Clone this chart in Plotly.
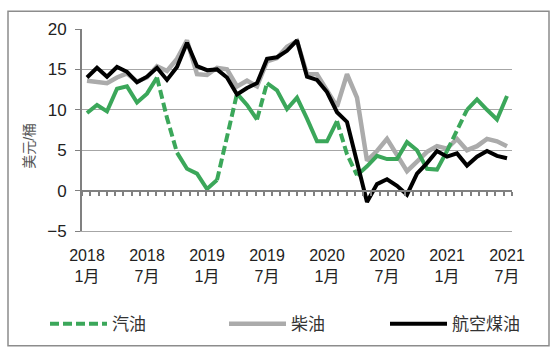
import plotly.graph_objects as go

# ---------------- data ----------------
months = [f"{y}年{m}月" for y in range(2018, 2022) for m in range(1, 13)][:43]

gasoline = [9.6, 10.6, 9.8, 12.6, 12.9, 10.9, 12.0, 14.0, 9.0, 4.7,
            2.7, 2.1, 0.2, 1.3, 6.5, 12.0, 10.6, 8.8, 13.3, 12.4,
            10.1, 11.5, 8.9, 6.1, 6.1, 8.6, 4.5, 1.9, 3.0, 4.3,
            3.9, 3.9, 6.0, 5.0, 2.7, 2.6, 4.9, 7.5, 10.0, 11.3,
            10.0, 8.8, 11.7]
diesel = [13.6, 13.4, 13.3, 14.0, 14.5, 13.5, 14.0, 15.4, 14.8, 16.3,
          18.6, 14.4, 14.3, 15.2, 15.0, 12.9, 13.6, 12.9, 16.0, 16.4,
          17.8, 18.5, 14.4, 14.4, 12.3, 10.4, 14.4, 11.5, 3.7, 4.9,
          6.4, 4.3, 2.4, 3.6, 4.8, 5.5, 5.2, 6.4, 5.0, 5.5,
          6.4, 6.1, 5.5]
jet = [14.0, 15.2, 14.1, 15.3, 14.7, 13.4, 14.1, 15.2, 13.7, 15.3,
       18.3, 15.4, 14.9, 15.0, 14.0, 11.9, 12.7, 13.3, 16.3, 16.5,
       17.3, 18.6, 14.1, 13.7, 12.2, 9.7, 8.5, 3.5, -1.4, 0.8,
       1.4, 0.6, -0.5, 2.1, 3.4, 4.9, 4.2, 4.6, 3.1, 4.2,
       4.9, 4.3, 4.0]

# segments of the gasoline line drawn dashed (start index, end index)
gasoline_dashed = [(7, 9), (13, 15), (17, 18), (25, 27), (36, 38)]

tick_months = months[::6]
tick_text = [f"{m[:4]}<br>{m[5:]}" for m in tick_months]

FONT = "Liberation Sans, Arial, Noto Sans CJK SC, sans-serif"
GREEN = "#3ba75a"
GRAY = "#ababab"
BLACK = "#000000"

# plot area geometry in pixels (for paper conversion of decorations)
L, R, T, B = 82, 512, 29, 233
W, H = R - L, B - T


def px(x):
    return (x - L) / W


def py(y):
    return (B - y) / H


fig = go.Figure()

# diesel
fig.add_trace(go.Scatter(x=months, y=diesel, mode="lines", name="柴油",
                         line=dict(color=GRAY, width=4.5), legend="legend2"))

# gasoline: split into solid and dashed segments
segs = []
cur = 0
for a, b in gasoline_dashed:
    if a > cur:
        segs.append((cur, a, False))
    segs.append((a, b, True))
    cur = b
if cur < len(gasoline) - 1:
    segs.append((cur, len(gasoline) - 1, False))

first_dash = True
for a, b, dashed in segs:
    fig.add_trace(go.Scatter(
        x=months[a:b + 1], y=gasoline[a:b + 1], mode="lines", name="汽油",
        line=dict(color=GREEN, width=4, dash="9px,4px" if dashed else "solid"),
        showlegend=dashed and first_dash, legend="legend"))
    if dashed:
        first_dash = False

# jet fuel
fig.add_trace(go.Scatter(x=months, y=jet, mode="lines", name="航空煤油",
                         line=dict(color=BLACK, width=4), legend="legend3"))

# helper trace for the minor-tick baseline at y=0
fig.add_trace(go.Scatter(x=[0, 52], y=[None, None], xaxis="x2", mode="lines",
                         showlegend=False, hoverinfo="skip"))

LEG = dict(orientation="h", xanchor="left", yanchor="middle",
           font=dict(size=17, color="#333333"),
           bgcolor="rgba(0,0,0,0)", itemwidth=57)

fig.update_layout(
    width=556, height=354,
    margin=dict(l=L, r=556 - R, t=T, b=354 - B),
    paper_bgcolor="white", plot_bgcolor="white",
    font=dict(family=FONT, size=16, color="#222222"),
    xaxis=dict(type="category", range=[-0.5, 42.5], tickmode="array",
               tickvals=tick_months, ticktext=tick_text, ticks="",
               ticklabelstandoff=10, showgrid=False, showline=True,
               linecolor="#a6a6a6", linewidth=1, zeroline=False,
               tickfont=dict(size=16, color="#222222")),
    xaxis2=dict(overlaying="x", anchor="free", position=0.2, range=[0, 52],
                tickmode="linear", tick0=0, dtick=1, ticks="outside",
                ticklen=4, tickwidth=1.5, tickcolor="#808080",
                showticklabels=False, showgrid=False, showline=True,
                linecolor="#808080", linewidth=2, zeroline=False),
    yaxis=dict(range=[-5, 20], tickmode="linear", tick0=-5, dtick=5,
               showline=True, linecolor="#808080", linewidth=2,
               ticks="outside", ticklen=5, tickcolor="#808080",
               ticklabelstandoff=5,
               gridcolor="#a6a6a6", gridwidth=1, zeroline=False,
               tickfont=dict(size=17, color="#222222")),
    legend=dict(LEG, x=px(45), y=py(327)),
    legend2=dict(LEG, x=px(224), y=py(327)),
    legend3=dict(LEG, x=px(385), y=py(327)),
    showlegend=True,
    annotations=[dict(text="美元/桶", x=px(29), y=py(147), xref="paper",
                      yref="paper", xanchor="center", yanchor="middle",
                      showarrow=False, textangle=-90,
                      font=dict(size=14, color="#555555"))],
    shapes=[dict(type="rect", xref="paper", yref="paper",
                 x0=px(8), x1=px(549), y0=py(349), y1=py(11),
                 line=dict(color="#8c8c8c", width=1.5), layer="below")],
)

fig.write_html("out.html")
